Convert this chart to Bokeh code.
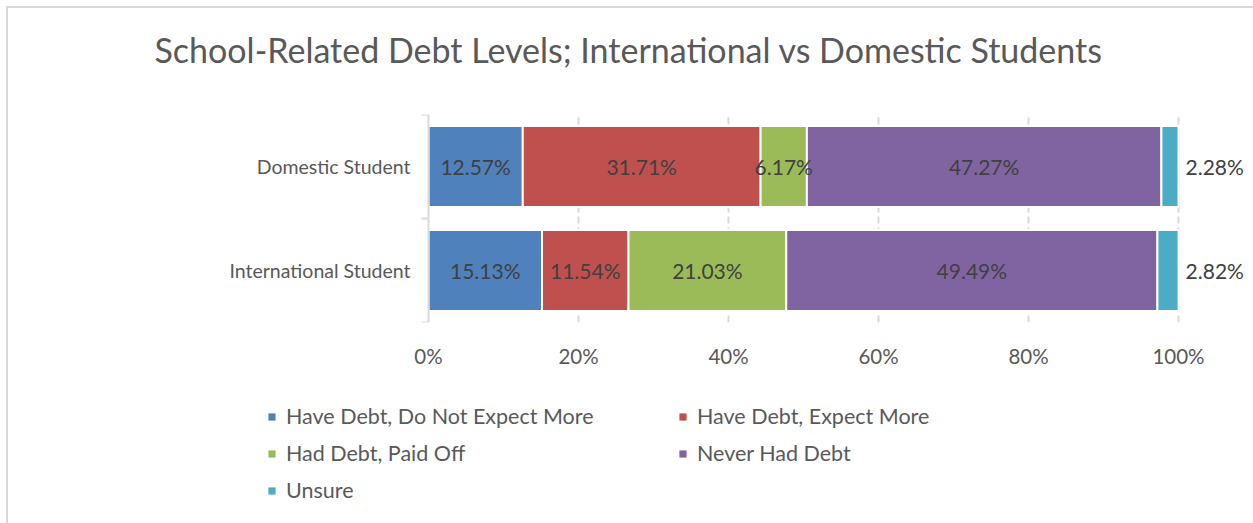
from bokeh.plotting import figure
from bokeh.layouts import column
from bokeh.models import (Range1d, FixedTicker, ColumnDataSource, Legend, LegendItem,
                          LabelSet, Title)
from bokeh.embed import file_html
from bokeh.resources import INLINE
from bokeh.core.properties import value

# ---- data ----
groups = ["International Student", "Domestic Student"]
series = ["Have Debt, Do Not Expect More", "Have Debt, Expect More",
          "Had Debt, Paid Off", "Never Had Debt", "Unsure"]
colors = ["#4F81BD", "#C0504D", "#9BBB59", "#8064A2", "#4BACC6"]
international = [15.13, 11.54, 21.03, 49.49, 2.82]
domestic = [12.57, 31.71, 6.17, 47.27, 2.28]
x_ticks = [0, 20, 40, 60, 80, 100]
title_text = "School-Related Debt Levels; International vs Domestic Students"

FONT = "Lato"
W = 1245
TITLE_H, MAIN_H, LEG_H = 100, 290, 125
FRAME_L = 210            # shared frame left (figure px)
ZERO_PX, FULL_PX = 420, 1170   # where 0% and 100% sit (figure px)
PX_PER_UNIT = (FULL_PX - ZERO_PX) / 100
x_start = -(ZERO_PX - FRAME_L) / PX_PER_UNIT
x_end = (W - ZERO_PX) / PX_PER_UNIT


def strip(height):
    f = figure(width=W, height=height, output_backend="svg", toolbar_location=None,
               x_range=Range1d(0, 1), y_range=Range1d(0, 1),
               x_axis_location=None, y_axis_location=None,
               min_border_left=FRAME_L, min_border_right=0,
               min_border_top=0, min_border_bottom=0)
    f.outline_line_color = None
    f.grid.visible = False
    return f


# ---------- title strip ----------
pt = strip(TITLE_H)
pt.add_layout(Title(text=title_text, align="left", offset=146 - FRAME_L,
                    vertical_align="middle", standoff=39,
                    text_font=FONT, text_font_size="34px", text_font_style="normal",
                    text_color="#595959"), "above")

# ---------- main chart ----------
p = figure(width=W, height=MAIN_H, output_backend="svg", toolbar_location=None,
           x_range=Range1d(x_start, x_end), y_range=Range1d(0, 2),
           min_border_left=FRAME_L, min_border_right=0, min_border_top=6,
           min_border_bottom=76)
p.outline_line_color = None

ypos = [0.5, 1.5]
rows = [international, domestic]

sources = []
for i, name in enumerate(series):
    left = [sum(r[:i]) for r in rows]
    right = [sum(r[:i + 1]) for r in rows]
    src = ColumnDataSource(dict(y=ypos, left=left, right=right,
                                val=[r[i] for r in rows]))
    sources.append(src)
    p.hbar(y="y", left="left", right="right", height=0.78, source=src,
           fill_color=colors[i], line_color="white", line_width=2)
    labels = [f"{v:.2f}%" for v in src.data["val"]]
    if i < len(series) - 1:
        lx = [(a + b) / 2 for a, b in zip(left, right)]
        lsrc = ColumnDataSource(dict(x=lx, y=ypos, t=labels))
        p.add_layout(LabelSet(x="x", y="y", text="t", source=lsrc,
                              text_align="center", text_baseline="middle",
                              text_font=value(FONT), text_font_size="21px",
                              text_color="#404040"))
    else:
        lsrc = ColumnDataSource(dict(x=right, y=ypos, t=labels))
        p.add_layout(LabelSet(x="x", y="y", text="t", source=lsrc,
                              x_offset=7, text_align="left", text_baseline="middle",
                              text_font=value(FONT), text_font_size="21px",
                              text_color="#404040"))

p.ygrid.visible = False
p.xgrid.ticker = FixedTicker(ticks=x_ticks[1:])
p.xgrid.grid_line_color = "#d9d9d9"
p.xgrid.grid_line_width = 2
p.xgrid.grid_line_dash = "7 4"
p.xgrid.level = "underlay"

xa = p.xaxis[0]
xa.ticker = FixedTicker(ticks=x_ticks)
xa.major_label_overrides = {t: f"{t}%" for t in x_ticks}
xa.axis_line_color = None
xa.major_tick_line_color = None
xa.minor_tick_line_color = None
xa.major_tick_out = 0
xa.minor_tick_out = 0
xa.major_label_standoff = 21
xa.major_label_text_font = FONT
xa.major_label_text_font_size = "20.5px"
xa.major_label_text_color = "#595959"

ya = p.yaxis[0]
ya.fixed_location = 0
ya.bounds = (0, 2)
ya.ticker = FixedTicker(ticks=ypos, minor_ticks=[0, 1, 2])
ya.major_label_overrides = {y: g for y, g in zip(ypos, groups)}
ya.axis_line_color = "#d9d9d9"
ya.axis_line_width = 2
ya.major_tick_line_color = None
ya.major_tick_out = 0
ya.major_tick_in = 0
ya.minor_tick_line_color = "#d9d9d9"
ya.minor_tick_line_width = 2
ya.minor_tick_out = 7
ya.minor_tick_in = 0
ya.major_label_standoff = 11
ya.major_label_text_font = FONT
ya.major_label_text_font_size = "19.5px"
ya.major_label_text_color = "#595959"

# ---------- legend strip ----------
pl = strip(LEG_H)
leg_renderers = []
for i, name in enumerate(series):
    r = pl.hbar(y="y", left="left", right="right", height=0.78, source=sources[i],
                fill_color=colors[i], line_color=None, visible=False)
    leg_renderers.append(r)

legend = Legend(items=[LegendItem(label=s, renderers=[r]) for s, r in zip(series, leg_renderers)],
                location=(259 - FRAME_L, 20), orientation="horizontal", ncols=2,
                glyph_width=9, glyph_height=9, label_standoff=10,
                label_width=381, label_height=22, spacing=11,
                padding=0, margin=0,
                label_text_font=FONT, label_text_font_size="21.5px",
                label_text_color="#595959",
                border_line_color=None, background_fill_alpha=0)
pl.add_layout(legend)

layout = column(pt, p, pl, spacing=0)
layout.styles = {"margin-left": "6px", "margin-top": "6px",
                 "border-top": "2px solid #d9d9d9", "border-left": "2px solid #d9d9d9"}

open("out.html", "w").write(file_html(layout, INLINE))
